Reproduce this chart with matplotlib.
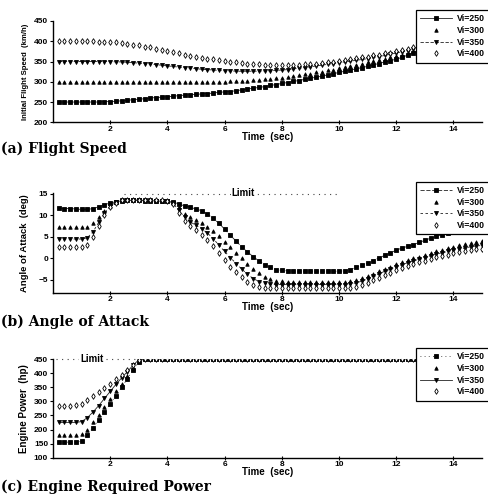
import numpy as np
import matplotlib.pyplot as plt

# time grid (sec), simulation output every 0.2 s
TIME = np.round(np.arange(1, 76) * 0.2, 1)
LABELS = ['Vi=250', 'Vi=300', 'Vi=350', 'Vi=400']

# (a) initial flight speed, km/h
SPEED_250 = [250, 250, 250, 250, 250, 250, 250, 250, 251, 251,
             252, 253, 254, 256, 257, 258, 260, 261, 262, 263,
             264, 266, 267, 268, 269, 270, 271, 272, 274, 275,
             276, 278, 280, 282, 284, 286, 288, 291, 293, 296,
             298, 301, 303, 306, 309, 311, 314, 317, 320, 323,
             326, 329, 332, 335, 338, 342, 345, 349, 352, 356,
             360, 366, 372, 378, 381, 385, 388, 391, 394, 397,
             400, 403, 406, 408, 411]
SPEED_300 = [300, 300, 300, 300, 300, 300, 300, 300, 300, 300,
             300, 300, 300, 300, 300, 300, 300, 300, 300, 300,
             300, 300, 300, 300, 300, 300, 300, 300, 300, 300,
             301, 301, 302, 303, 304, 305, 306, 307, 309, 310,
             312, 314, 316, 318, 320, 323, 325, 328, 330, 333,
             336, 339, 342, 345, 348, 351, 354, 357, 360, 363,
             367, 371, 375, 379, 383, 387, 390, 393, 396, 399,
             402, 405, 408, 411, 414]
SPEED_350 = [350, 350, 350, 350, 350, 350, 350, 350, 350, 350,
             349, 349, 348, 347, 346, 345, 344, 342, 341, 339,
             338, 336, 335, 334, 332, 331, 330, 329, 328, 327,
             327, 326, 326, 326, 326, 326, 327, 327, 328, 329,
             330, 332, 333, 335, 337, 339, 341, 343, 345, 347,
             349, 351, 353, 355, 357, 360, 362, 365, 368, 371,
             374, 377, 380, 383, 386, 389, 392, 395, 398, 401,
             404, 406, 409, 412, 415]
SPEED_400 = [400, 400, 400, 400, 400, 400, 400, 399, 399, 398,
             397, 396, 394, 392, 390, 387, 385, 382, 379, 376,
             373, 370, 367, 364, 362, 359, 357, 355, 353, 351,
             349, 348, 346, 345, 344, 343, 342, 342, 341, 341,
             341, 341, 342, 343, 344, 345, 347, 348, 350, 352,
             354, 356, 358, 360, 362, 365, 367, 370, 372, 375,
             378, 381, 385, 389, 392, 395, 398, 401, 404, 407,
             410, 412, 415, 418, 420]

# (b) angle of attack, deg
AOA_250 = [11.7, 11.6, 11.6, 11.5, 11.4, 11.4, 11.6, 12.0, 12.5, 12.9,
           13.2, 13.4, 13.5, 13.5, 13.5, 13.4, 13.4, 13.4, 13.3, 13.3,
           13.1, 12.7, 12.2, 11.9, 11.5, 11.1, 10.3, 9.3, 8.2, 6.8,
           5.4, 4.0, 2.7, 1.5, 0.4, -0.6, -1.5, -2.1, -2.6, -2.8,
           -2.9, -3.0, -3.0, -3.0, -3.0, -3.0, -3.0, -3.0, -3.0, -3.0,
           -2.9, -2.6, -2.1, -1.6, -1.1, -0.5, 0.1, 0.7, 1.3, 1.9,
           2.4, 2.8, 3.2, 3.7, 4.2, 4.7, 5.1, 5.5, 5.8, 6.1,
           6.4, 6.7, 7.0, 7.2, 7.4]
AOA_300 = [7.2, 7.2, 7.2, 7.2, 7.2, 7.4, 8.3, 9.6, 11.0, 12.3,
           13.1, 13.5, 13.6, 13.6, 13.6, 13.5, 13.5, 13.4, 13.4, 13.3,
           13.0, 12.0, 10.4, 9.6, 8.9, 8.2, 7.4, 6.4, 5.2, 3.9,
           2.6, 1.3, 0.0, -1.3, -2.5, -3.5, -4.3, -4.9, -5.2, -5.3,
           -5.4, -5.4, -5.4, -5.4, -5.4, -5.4, -5.4, -5.4, -5.4, -5.4,
           -5.4, -5.3, -5.0, -4.6, -4.1, -3.6, -3.0, -2.4, -1.9, -1.4,
           -0.9, -0.4, 0.0, 0.4, 0.8, 1.2, 1.6, 2.0, 2.4, 2.7,
           3.0, 3.3, 3.6, 3.9, 4.1]
AOA_350 = [4.5, 4.5, 4.5, 4.5, 4.5, 4.8, 6.2, 8.4, 10.6, 12.2,
           13.1, 13.5, 13.6, 13.6, 13.6, 13.5, 13.5, 13.4, 13.4, 13.3,
           12.8, 11.2, 9.6, 8.5, 7.7, 6.9, 5.9, 4.6, 3.1, 1.6,
           0.2, -1.2, -2.5, -3.7, -4.7, -5.4, -5.8, -6.0, -6.1, -6.1,
           -6.1, -6.1, -6.1, -6.1, -6.1, -6.1, -6.1, -6.1, -6.1, -6.1,
           -6.1, -6.0, -5.7, -5.3, -4.8, -4.2, -3.6, -3.0, -2.5, -2.0,
           -1.5, -1.0, -0.6, -0.2, 0.2, 0.6, 1.0, 1.3, 1.6, 1.9,
           2.2, 2.4, 2.7, 2.9, 3.0]
AOA_400 = [2.7, 2.7, 2.7, 2.7, 2.7, 3.2, 5.0, 7.5, 10.2, 12.0,
           13.0, 13.5, 13.7, 13.7, 13.7, 13.6, 13.6, 13.5, 13.5, 13.4,
           12.6, 10.6, 8.6, 7.5, 6.5, 5.5, 4.3, 2.8, 1.2, -0.4,
           -1.9, -3.2, -4.4, -5.4, -6.2, -6.7, -6.9, -7.0, -7.0, -7.0,
           -7.0, -7.0, -7.0, -7.0, -7.0, -7.0, -7.0, -7.0, -7.0, -7.0,
           -7.0, -6.9, -6.6, -6.2, -5.7, -5.1, -4.5, -3.9, -3.3, -2.8,
           -2.3, -1.8, -1.3, -0.9, -0.5, -0.1, 0.3, 0.6, 0.9, 1.2,
           1.5, 1.7, 1.9, 2.1, 2.2]

# (c) engine required power, hp (ramp up to 3.0 s, then held at the limit)
POWER_250_RAMP = [155, 155, 155, 155, 158, 180, 207, 235, 262, 292, 320, 350, 380, 412, 440]
POWER_300_RAMP = [180, 180, 180, 180, 183, 200, 225, 252, 280, 308, 335, 362, 390, 418, 443]
POWER_350_RAMP = [225, 225, 225, 225, 228, 242, 262, 285, 310, 335, 360, 383, 405, 428, 447]
POWER_400_RAMP = [285, 285, 285, 286, 290, 303, 318, 333, 348, 363, 378, 393, 410, 428, 447]
POWER_HOLD = [450, 450, 450, 450, 450, 450, 450, 450, 450, 450,
              450, 450, 450, 450, 450, 450, 450, 450, 450, 450,
              450, 450, 450, 450, 450, 450, 450, 450, 450, 450,
              450, 450, 450, 450, 450, 450, 450, 450, 450, 450,
              450, 450, 450, 450, 450, 450, 450, 450, 450, 450,
              450, 450, 450, 450, 450, 450, 450, 450, 450, 450]

AOA_LIMIT = 15
AOA_LIMIT_SPAN = (2.5, 10.0)
POWER_LIMIT = 450
POWER_LIMIT_SPAN = (0.1, 15.0)

plt.rcParams['font.family'] = ['Liberation Sans', 'DejaVu Sans']
plt.rcParams['font.weight'] = 'bold'

W, H = 489, 495
fig = plt.figure(figsize=(W / 100, H / 100), dpi=100)

MARKERS = ['s', '^', 'v', 'd']
FACES = ['black', 'black', 'black', 'white']
SIZES = [2.3, 2.5, 2.9, 2.9]


def panel(top_px, bottom_px, series, ylim, yticks, ylabel, ylab_size, styles):
    ax = fig.add_axes([53 / W, 1 - bottom_px / H, 429 / W, (bottom_px - top_px) / H])
    for y, lab, m, fc, ms, ls in zip(series, LABELS, MARKERS, FACES, SIZES, styles):
        ax.plot(TIME, y, linestyle=ls, linewidth=0.6, color='#222222',
                marker=m, markersize=ms, markerfacecolor=fc,
                markeredgecolor='black', markeredgewidth=0.6, label=lab)
    ax.set_xlim(0, 15)
    ax.set_ylim(*ylim)
    ax.set_xticks([2, 4, 6, 8, 10, 12, 14])
    ax.set_yticks(yticks)
    for s in ['top', 'right']:
        ax.spines[s].set_visible(False)
    for s in ['left', 'bottom']:
        ax.spines[s].set_linewidth(1.0)
    ax.tick_params(axis='x', direction='inout', length=3, width=0.8, pad=1, labelsize=6)
    ax.tick_params(axis='y', direction='out', length=2, width=0.8, pad=1.5, labelsize=6)
    ax.set_xlabel('Time  (sec)', fontsize=7, fontweight='bold')
    ax.xaxis.set_label_coords(0.5, -9.5 / (bottom_px - top_px))
    ax.set_ylabel(ylabel, fontsize=ylab_size, fontweight='bold')
    ax.yaxis.set_label_coords(-0.057, 0.5)
    leg = ax.legend(loc='upper left', bbox_to_anchor=(416 / W, 1 - (top_px - 11) / H),
                    bbox_transform=fig.transFigure, borderaxespad=0, fontsize=6.3,
                    handlelength=3.6, handletextpad=0.6, labelspacing=0.3,
                    borderpad=0.5, fancybox=False, framealpha=1)
    leg.get_frame().set_edgecolor('black')
    leg.get_frame().set_linewidth(0.9)
    return ax


ax_a = panel(21, 122.3, [SPEED_250, SPEED_300, SPEED_350, SPEED_400],
             (200, 450), [200, 250, 300, 350, 400, 450],
             'Initial Flight Speed  (km/h)', 5.6,
             ['-', 'None', (0, (4, 2)), 'None'])

ax_b = panel(192.7, 292.7, [AOA_250, AOA_300, AOA_350, AOA_400],
             (-8, 15.3), [-5, 0, 5, 10, 15],
             'Angle of Attack  (deg)', 6.8,
             [(0, (5, 2)), 'None', (0, (3, 3)), 'None'])
ax_b.hlines(AOA_LIMIT, *AOA_LIMIT_SPAN, colors='#444444', linestyles=(0, (1, 4)), linewidth=0.8)
ax_b.text(6.65, AOA_LIMIT + 0.3, 'Limit', fontsize=7, ha='center', va='center',
          bbox=dict(facecolor='white', edgecolor='none', pad=0.5))

power = [POWER_250_RAMP + POWER_HOLD, POWER_300_RAMP + POWER_HOLD,
         POWER_350_RAMP + POWER_HOLD, POWER_400_RAMP + POWER_HOLD]
ax_c = panel(359, 457.7, power, (100, 450), [100, 150, 200, 250, 300, 350, 400, 450],
             'Engine Power  (hp)', 7.0,
             [(0, (1, 4)), 'None', '-', 'None'])
ax_c.hlines(POWER_LIMIT, *POWER_LIMIT_SPAN, colors='#444444', linestyles=(0, (1, 4)),
            linewidth=0.8, zorder=1, clip_on=False)
ax_c.text(1.35, POWER_LIMIT, 'Limit', fontsize=7, ha='center', va='center',
          bbox=dict(facecolor='white', edgecolor='none', pad=0.5), clip_on=False)

cap = dict(family='DejaVu Serif', weight='bold', fontsize=10, ha='left', va='center')
fig.text(0.003, 1 - 149 / H, '(a) Flight Speed', **cap)
fig.text(0.003, 1 - 322 / H, '(b) Angle of Attack', **cap)
fig.text(0.003, 1 - 487 / H, '(c) Engine Required Power', **cap)

fig.savefig('out.png', dpi=100)
